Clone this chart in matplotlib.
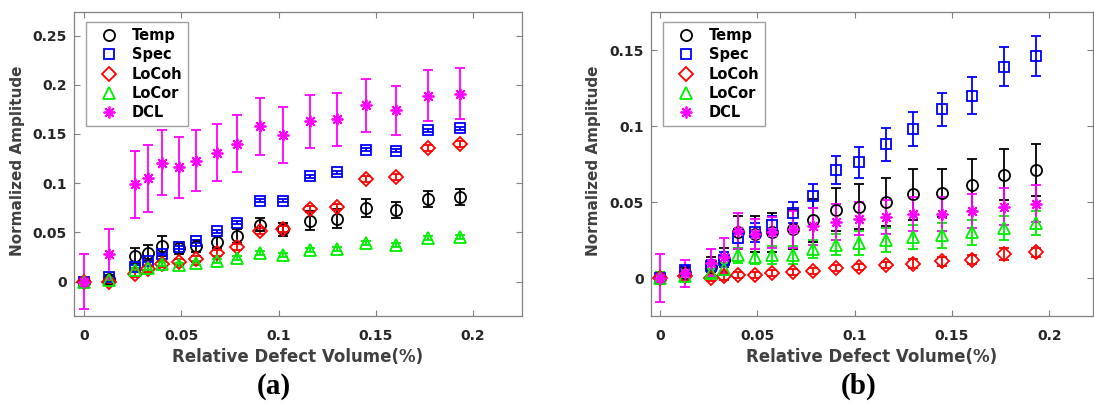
import matplotlib
matplotlib.use("Agg")
import matplotlib.pyplot as plt

# === DATA ===
volume = [0, 0.0128, 0.026, 0.033, 0.040, 0.0488, 0.0577, 0.0682, 0.0784,
          0.0904, 0.1024, 0.1161, 0.1298, 0.1449, 0.1601, 0.1767, 0.1932]
series_names = ["Temp", "Spec", "LoCoh", "LoCor", "DCL"]

# panel (a)
temp_a = [0, 0.003, 0.026, 0.029, 0.036, 0.034, 0.036, 0.040, 0.046, 0.058, 0.053,
          0.062, 0.064, 0.075, 0.073, 0.084, 0.086]
temp_a_err = [0.002, 0.003, 0.008, 0.008, 0.010, 0.006, 0.006, 0.006, 0.007, 0.007,
              0.007, 0.010, 0.010, 0.009, 0.008, 0.008, 0.008]
spec_a = [0, 0.005, 0.015, 0.021, 0.028, 0.035, 0.041, 0.051, 0.060, 0.082, 0.082,
          0.107, 0.111, 0.134, 0.133, 0.154, 0.156]
spec_a_err = [0.001, 0.0015, 0.0015, 0.0015, 0.0015, 0.0015, 0.0015, 0.0015, 0.0015,
              0.0015, 0.0015, 0.0015, 0.0015, 0.0015, 0.0015, 0.0015, 0.0015]
locoh_a = [0, 0.0, 0.008, 0.013, 0.018, 0.020, 0.023, 0.029, 0.035, 0.051, 0.053,
           0.074, 0.076, 0.104, 0.106, 0.136, 0.140]
locoh_a_err = [0.002, 0.002, 0.003, 0.003, 0.003, 0.003, 0.003, 0.003, 0.003, 0.003,
               0.003, 0.003, 0.003, 0.003, 0.003, 0.003, 0.003]
locor_a = [0, 0.002, 0.012, 0.014, 0.018, 0.017, 0.019, 0.021, 0.024, 0.029, 0.027,
           0.032, 0.033, 0.039, 0.037, 0.044, 0.045]
locor_a_err = [0.002, 0.002, 0.002, 0.002, 0.002, 0.002, 0.002, 0.002, 0.002, 0.002,
               0.002, 0.002, 0.002, 0.002, 0.002, 0.002, 0.002]
dcl_a = [0, 0.028, 0.099, 0.105, 0.121, 0.116, 0.123, 0.131, 0.140, 0.158, 0.149,
         0.163, 0.165, 0.179, 0.174, 0.189, 0.191]
dcl_a_err = [0.028, 0.025, 0.034, 0.034, 0.033, 0.031, 0.031, 0.029, 0.029, 0.029,
             0.028, 0.027, 0.027, 0.027, 0.025, 0.026, 0.026]

# panel (b)
temp_b = [0, 0.003, 0.007, 0.012, 0.030, 0.029, 0.030, 0.032, 0.038, 0.045, 0.047,
          0.050, 0.055, 0.056, 0.061, 0.068, 0.071]
temp_b_err = [0.004, 0.004, 0.007, 0.008, 0.011, 0.012, 0.013, 0.013, 0.014, 0.014,
              0.015, 0.016, 0.017, 0.016, 0.017, 0.017, 0.017]
spec_b = [0, 0.005, 0.008, 0.012, 0.026, 0.030, 0.035, 0.043, 0.054, 0.071, 0.076,
          0.088, 0.098, 0.111, 0.120, 0.139, 0.146]
spec_b_err = [0.003, 0.003, 0.004, 0.005, 0.006, 0.006, 0.006, 0.007, 0.008, 0.009,
              0.010, 0.011, 0.011, 0.011, 0.012, 0.013, 0.013]
locoh_b = [0, 0.001, 0.0, 0.001, 0.002, 0.002, 0.003, 0.004, 0.0045, 0.0065, 0.007,
           0.0085, 0.0095, 0.011, 0.012, 0.016, 0.017]
locoh_b_err = [0.002, 0.002, 0.002, 0.002, 0.002, 0.002, 0.002, 0.002, 0.002, 0.002,
               0.002, 0.002, 0.003, 0.003, 0.003, 0.004, 0.003]
locor_b = [0, 0.001, 0.003, 0.006, 0.015, 0.014, 0.015, 0.015, 0.019, 0.022, 0.023,
           0.025, 0.027, 0.028, 0.030, 0.033, 0.036]
locor_b_err = [0.004, 0.003, 0.003, 0.004, 0.005, 0.005, 0.006, 0.006, 0.006, 0.007,
               0.008, 0.008, 0.008, 0.008, 0.008, 0.008, 0.008]
dcl_b = [0, 0.003, 0.010, 0.014, 0.031, 0.029, 0.030, 0.032, 0.034, 0.037, 0.039,
         0.040, 0.042, 0.042, 0.044, 0.047, 0.049]
dcl_b_err = [0.016, 0.009, 0.009, 0.012, 0.012, 0.010, 0.010, 0.012, 0.012, 0.012,
             0.011, 0.011, 0.011, 0.011, 0.011, 0.012, 0.012]

x_ticks = [0, 0.05, 0.1, 0.15, 0.2]
x_ticklabels = ["0", "0.05", "0.1", "0.15", "0.2"]
y_ticks_a = [0, 0.05, 0.1, 0.15, 0.2, 0.25]
y_ticklabels_a = ["0", "0.05", "0.1", "0.15", "0.2", "0.25"]
y_ticks_b = [0, 0.05, 0.1, 0.15]
y_ticklabels_b = ["0", "0.05", "0.1", "0.15"]

# === STYLE ===
plt.rcParams["font.family"] = ["DejaVu Sans"]
plt.rcParams["font.weight"] = "bold"

styles = {
    "Temp": dict(marker="o", color="black", ms=8),
    "Spec": dict(marker="s", color="#0000ff", ms=6.5),
    "LoCoh": dict(marker="D", color="#ff0000", ms=6.8),
    "LoCor": dict(marker="^", color="#00ee00", ms=8.5),
    "DCL": dict(marker=(8, 2, 0), color="#ff00ff", ms=8.5),
}
spine_col = "#808080"
tick_col = "#262626"
label_col = "#404040"


def draw_panel(ax, series, yticks, yticklabels, ylim, xlim, ylabel_x):
    handles = []
    for name, (vals, errs) in zip(series_names, series):
        st = styles[name]
        c = ax.errorbar(volume, vals, yerr=errs, fmt="", marker=st["marker"],
                        linestyle="none", ms=st["ms"], mfc="none", mec=st["color"],
                        mew=1.3, ecolor=st["color"], elinewidth=1.3, capsize=3.5,
                        capthick=1.3, label=name)
        handles.append(c[0])
    ax.set_xlim(*xlim)
    ax.set_ylim(*ylim)
    ax.set_xticks(x_ticks)
    ax.set_xticklabels(x_ticklabels)
    ax.set_yticks(yticks)
    ax.set_yticklabels(yticklabels)
    ax.tick_params(direction="in", length=4, width=0.8, color=spine_col,
                   labelcolor=tick_col, labelsize=10, top=True, right=True)
    ax.tick_params(axis="x", pad=9)
    ax.tick_params(axis="y", pad=5)
    for s in ax.spines.values():
        s.set_color(spine_col)
        s.set_linewidth(0.9)
    ax.set_xlabel("Relative Defect Volume(%)", fontsize=12, fontweight="bold", color=label_col)
    ax.xaxis.set_label_coords(0.5, -0.135)
    ax.xaxis.label.set_verticalalignment("center")
    ax.set_ylabel("Normalized Amplitude", fontsize=11, fontweight="bold", color=label_col)
    ax.yaxis.set_label_coords(ylabel_x, 0.51)
    ax.yaxis.label.set_verticalalignment("center")
    leg = ax.legend(handles=handles, labels=series_names, loc="upper left",
                    bbox_to_anchor=(0.027, 0.967), borderaxespad=0, fontsize=10.5,
                    handlelength=2.4, handletextpad=0.35, borderpad=0.4,
                    labelspacing=0.3, fancybox=False, framealpha=1)
    leg.get_frame().set_edgecolor("#a0a0a0")
    leg.get_frame().set_linewidth(1.0)
    for t in leg.get_texts():
        t.set_color("black")


fig = plt.figure(figsize=(10.94, 4.05), dpi=100)
ax_a = fig.add_axes([74 / 1094, 1 - 316 / 405, 448 / 1094, 304 / 405])
ax_b = fig.add_axes([651 / 1094, 1 - 316 / 405, 442 / 1094, 304 / 405])

draw_panel(ax_a,
           [(temp_a, temp_a_err), (spec_a, spec_a_err), (locoh_a, locoh_a_err),
            (locor_a, locor_a_err), (dcl_a, dcl_a_err)],
           y_ticks_a, y_ticklabels_a, (-0.035, 0.274), (-0.0051, 0.2251), -0.127)
draw_panel(ax_b,
           [(temp_b, temp_b_err), (spec_b, spec_b_err), (locoh_b, locoh_b_err),
            (locor_b, locor_b_err), (dcl_b, dcl_b_err)],
           y_ticks_b, y_ticklabels_b, (-0.025, 0.175), (-0.0046, 0.2225), -0.131)

fig.text(274 / 1094, 1 - 386 / 405, "(a)", family="Liberation Serif", fontweight="bold",
         fontsize=21, ha="center", va="center", color="black")
fig.text(859 / 1094, 1 - 386 / 405, "(b)", family="Liberation Serif", fontweight="bold",
         fontsize=21, ha="center", va="center", color="black")

fig.savefig("out.png", dpi=100)
